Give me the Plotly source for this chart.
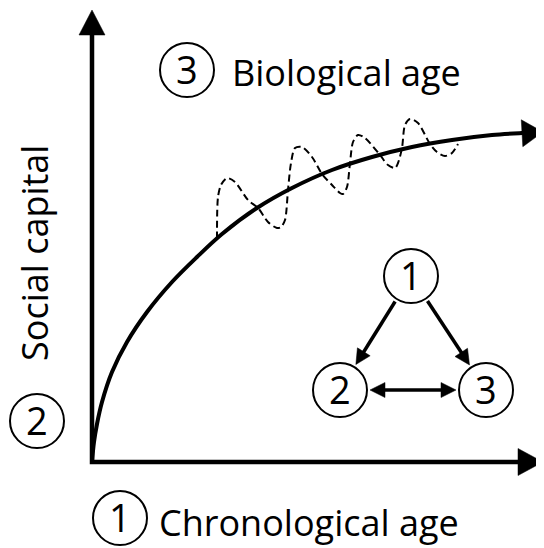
import numpy as np
import plotly.graph_objects as go

# ---- data (chart units: origin at the axes corner, y up) ----
curve_x = [0, 2, 5, 10, 20, 35, 55, 80, 105, 130, 165, 200, 240, 280, 320, 360, 400, 430]
curve_y = [0, 20, 38, 60, 90, 120, 150, 180, 205, 228, 254, 274, 292, 305, 315, 322, 327, 329]
curve_tip = [451, 330]

wave_x = [125, 126, 129, 135, 143, 156, 166, 176, 185, 189, 193, 196, 199, 203, 210, 220, 230,
          240, 248, 251, 255, 258, 261, 266, 273, 288, 296, 303, 306, 310, 313, 318, 326, 338,
          345, 353, 360, 366]
wave_y = [223, 265, 277, 284, 280, 262, 254, 240, 234, 235, 242, 272, 299, 314, 315, 305, 288,
          277, 269, 268, 275, 299, 320, 327, 324, 307, 297, 294, 299, 314, 337, 343, 339, 318,
          310, 306, 309, 318]

x_axis_end = 426
x_axis_tip = 451
y_axis_end = 427
y_axis_tip = 452

node_labels = ["1", "2", "3"]
node_x = [319, 248, 394]
node_y = [186, 72, 72]
node_r = 27
edges = [(0, 1, False), (0, 2, False), (1, 2, True)]

label_circ_digits = ["1", "2", "3"]
label_circ_x = [28, -55, 95]
label_circ_y = [-56, 41, 392]
x_title = "Chronological age"
y_title = "Social capital"
z_title = "Biological age"

FONT = "Open Sans"
BLACK = "#000000"

fig = go.Figure()


def tri(tip, direction, length, half):
    d = np.array(direction, float)
    d /= np.linalg.norm(d)
    n = np.array([-d[1], d[0]])
    t = np.array(tip, float)
    b = t - d * length
    p1 = b + n * half
    p2 = b - n * half
    return [t[0], p1[0], p2[0], t[0]], [t[1], p1[1], p2[1], t[1]]


def add_tri(tip, direction, length, half):
    xs, ys = tri(tip, direction, length, half)
    fig.add_trace(go.Scatter(x=xs, y=ys, mode="lines", fill="toself", fillcolor=BLACK,
                             line=dict(color=BLACK, width=0.5), hoverinfo="skip"))


# axes
fig.add_trace(go.Scatter(x=[0, 0, x_axis_end], y=[y_axis_end, 0, 0], mode="lines",
                         line=dict(color=BLACK, width=4.5), hoverinfo="skip"))
add_tri([x_axis_tip, 0], [1, 0], x_axis_tip - x_axis_end, 13.5)
add_tri([0, y_axis_tip], [0, 1], y_axis_tip - y_axis_end, 13)

# wave (dashed)
fig.add_trace(go.Scatter(x=wave_x, y=wave_y, mode="lines",
                         line=dict(color=BLACK, width=2, dash="7px,4px", shape="spline", smoothing=0.8),
                         hoverinfo="skip"))
# main curve
fig.add_trace(go.Scatter(x=curve_x + [curve_x[-1] + 2], y=curve_y + [curve_y[-1] + 0.1], mode="lines",
                         line=dict(color=BLACK, width=4, shape="spline", smoothing=1.0),
                         hoverinfo="skip"))
add_tri(curve_tip, [curve_tip[0] - curve_x[-2], curve_tip[1] - curve_y[-2]], 21, 13.5)

shapes = []
annotations = []

# triangle diagram
gap = 3
for a, b, both in edges:
    p = np.array([node_x[a], node_y[a]], float)
    q = np.array([node_x[b], node_y[b]], float)
    d = (q - p) / np.linalg.norm(q - p)
    s = p + d * (node_r + gap)
    e = q - d * (node_r + gap)
    hl = 15
    ls = s + d * (hl - 2) if both else s
    le = e - d * (hl - 2)
    fig.add_trace(go.Scatter(x=[ls[0], le[0]], y=[ls[1], le[1]], mode="lines",
                             line=dict(color=BLACK, width=3.5), hoverinfo="skip"))
    add_tri(e, d, hl, 7.5)
    if both:
        add_tri(s, -d, hl, 7.5)

for lab, cx, cy in list(zip(node_labels, node_x, node_y)) + list(zip(label_circ_digits, label_circ_x, label_circ_y)):
    shapes.append(dict(type="circle", xref="x", yref="y", x0=cx - node_r, x1=cx + node_r,
                       y0=cy - node_r, y1=cy + node_r, line=dict(color=BLACK, width=2)))
    annotations.append(dict(x=cx, y=cy + 1, text=lab, showarrow=False, xref="x", yref="y",
                            xanchor="center", yanchor="middle",
                            font=dict(family=FONT, size=38, color=BLACK)))

annotations.append(dict(x=65, y=-60, text=x_title, showarrow=False, xanchor="left",
                        yanchor="middle", font=dict(family=FONT, size=36, color=BLACK)))
annotations.append(dict(x=138, y=390, text=z_title, showarrow=False, xanchor="left",
                        yanchor="middle", font=dict(family=FONT, size=36, color=BLACK)))
annotations.append(dict(x=-58, y=209, text=y_title, showarrow=False, textangle=-90,
                        xanchor="center", yanchor="middle",
                        font=dict(family=FONT, size=36, color=BLACK)))

# page body has an 8px default margin: shrink the figure so the picture sits where the reference does
fig.update_layout(
    width=536, height=540, margin=dict(l=0, r=0, t=0, b=0),
    paper_bgcolor="white", plot_bgcolor="white", showlegend=False,
    xaxis=dict(range=[-84, 452], visible=False, fixedrange=True),
    yaxis=dict(range=[-86, 454], visible=False, fixedrange=True),
    shapes=shapes, annotations=annotations,
)
fig.write_html("out.html")
